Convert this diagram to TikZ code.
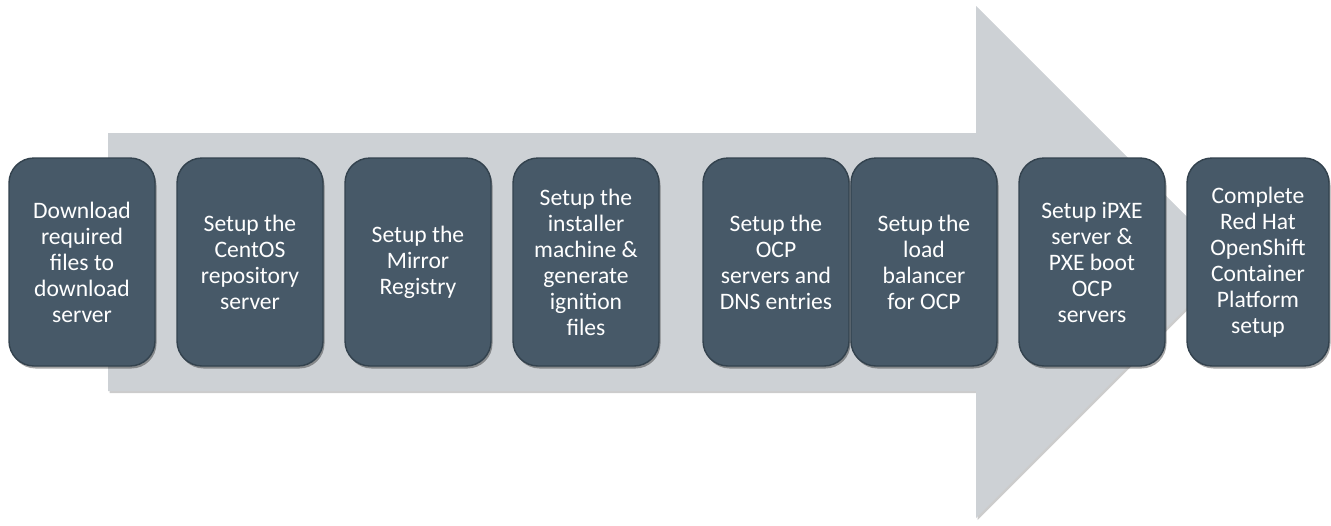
\documentclass[tikz,border=0pt]{standalone}
\usepackage{fontspec}
\setmainfont{Carlito}
\usetikzlibrary{shadows}
\definecolor{arrowgray}{HTML}{CDD1D5}
\definecolor{boxfill}{HTML}{475968}
\definecolor{boxedge}{HTML}{33424E}
\tikzset{
  stepbox/.style={draw=boxedge, line width=1.4pt, fill=boxfill, rounded corners=25pt,
    minimum width=146pt, minimum height=208pt, inner sep=0pt, align=center,
    text=white, font=\fontsize{23.6}{26}\selectfont,
    drop shadow={shadow xshift=1.5pt, shadow yshift=-2.5pt, opacity=0.35, fill=black}},
  bigarrow/.style={fill=arrowgray, draw=none,
    drop shadow={shadow xshift=1.5pt, shadow yshift=-2pt, opacity=0.2, fill=black}}
}
\begin{document}
\begin{tikzpicture}[x=1pt,y=-1pt]
\useasboundingbox (0,0) rectangle (1331,525);
\fill[white] (0,0) rectangle (1331,525);
\path[bigarrow] (108,133) -- (976,133) -- (976,6) -- (1232,262) -- (976,518) -- (976,391) -- (108,391) -- cycle;
\node[stepbox] (s1) at (82,262) {Download\\required\\files to\\download\\server};
\node[stepbox] (s2) at (250,262) {Setup the\\CentOS\\repository\\server};
\node[stepbox] (s3) at (418,262) {Setup the\\Mirror\\Registry};
\node[stepbox] (s4) at (586,262) {Setup the\\installer\\machine \&\\generate\\ignition\\files};
\node[stepbox] (s5) at (776,262) {Setup the\\OCP\\servers and\\DNS entries};
\node[stepbox] (s6) at (924,262) {Setup the\\load\\balancer\\for OCP};
\node[stepbox] (s7) at (1092,262) {Setup iPXE\\server \&\\PXE boot\\OCP\\servers};
\node[stepbox, minimum width=142pt] (s8) at (1258,262) {Complete\\Red Hat\\OpenShift\\Container\\Platform\\setup};
\end{tikzpicture}
\end{document}
